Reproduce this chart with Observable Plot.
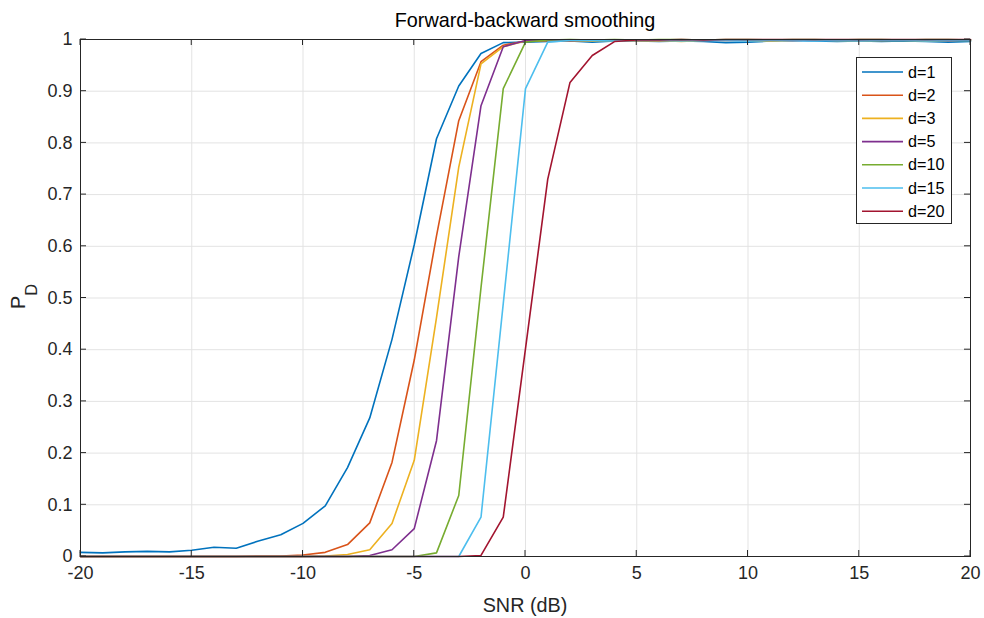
<!DOCTYPE html>
<html>
<head>
<meta charset="utf-8">
<script src="https://cdn.jsdelivr.net/npm/d3@7"></script>
<script src="https://cdn.jsdelivr.net/npm/@observablehq/plot@0.6"></script>
<style>
  html, body { margin: 0; padding: 0; background: #fff; }
  #chart { position: relative; width: 984px; height: 618px; }
</style>
</head>
<body>
<div id="chart"></div>
<script>
// ---- data ----
const snr = [-20,-19,-18,-17,-16,-15,-14,-13,-12,-11,-10,-9,-8,-7,-6,-5,-4,-3,-2,-1,0,
             1,2,3,4,5,6,7,8,9,10,11,12,13,14,15,16,17,18,19,20];

const seriesLabels = ["d=1","d=2","d=3","d=5","d=10","d=15","d=20"];
const seriesColors = ["#0072BD","#D95319","#EDB120","#7E2F8E","#77AC30","#4DBEEE","#A2142F"];

const pd1  = [0.008,0.007,0.009,0.010,0.009,0.012,0.018,0.016,0.030,0.042,0.064,0.098,0.172,0.268,0.420,0.603,0.808,0.910,0.973,0.994,0.995,
              0.996,0.997,0.995,0.997,0.997,0.996,0.997,0.996,0.994,0.995,0.997,0.998,0.997,0.996,0.997,0.996,0.997,0.996,0.995,0.996];
const pd2  = [0.000,0.000,0.000,0.000,0.000,0.000,0.000,0.000,0.001,0.001,0.003,0.008,0.023,0.065,0.182,0.380,0.620,0.843,0.957,0.989,0.997,
              0.998,0.997,0.998,0.999,0.998,0.997,0.998,0.999,0.998,0.999,0.998,0.999,0.999,0.998,0.999,0.998,0.999,0.999,0.998,0.999];
const pd3  = [0.000,0.000,0.000,0.000,0.000,0.000,0.000,0.000,0.000,0.000,0.000,0.001,0.004,0.013,0.064,0.186,0.462,0.753,0.953,0.986,0.997,
              0.998,0.998,0.997,0.998,0.997,0.998,0.996,0.998,0.999,0.998,0.997,0.998,0.999,0.998,0.997,0.998,0.998,0.997,0.998,0.998];
const pd5  = [0.000,0.000,0.000,0.000,0.000,0.000,0.000,0.000,0.000,0.000,0.000,0.000,0.000,0.002,0.013,0.054,0.224,0.580,0.872,0.986,0.998,
              0.999,0.998,0.999,0.999,0.998,0.999,0.999,0.998,0.999,0.999,0.999,0.998,0.999,0.999,0.998,0.999,0.999,0.999,0.998,0.999];
const pd10 = [0.000,0.000,0.000,0.000,0.000,0.000,0.000,0.000,0.000,0.000,0.000,0.000,0.000,0.000,0.000,0.000,0.007,0.118,0.520,0.905,0.995,
              0.999,1.000,0.999,1.000,0.999,1.000,1.000,0.999,1.000,1.000,0.999,1.000,1.000,0.999,1.000,1.000,0.999,1.000,1.000,0.999];
const pd15 = [0.000,0.000,0.000,0.000,0.000,0.000,0.000,0.000,0.000,0.000,0.000,0.000,0.000,0.000,0.000,0.000,0.000,0.000,0.076,0.489,0.905,
              0.995,0.998,0.998,0.997,0.998,0.998,0.997,0.998,0.998,0.997,0.998,0.998,0.997,0.998,0.997,0.998,0.998,0.997,0.998,0.998];
const pd20 = [0.000,0.000,0.000,0.000,0.000,0.000,0.000,0.000,0.000,0.000,0.000,0.000,0.000,0.000,0.000,0.000,0.000,0.000,0.002,0.076,0.402,
              0.730,0.917,0.969,0.996,0.999,0.999,1.000,0.999,1.000,1.000,1.000,1.000,1.000,1.000,1.000,1.000,1.000,1.000,1.000,1.000];

const xTicks = [-20,-15,-10,-5,0,5,10,15,20];
const yTicks = [0,0.1,0.2,0.3,0.4,0.5,0.6,0.7,0.8,0.9,1];
const yTickLabels = ["0","0.1","0.2","0.3","0.4","0.5","0.6","0.7","0.8","0.9","1"];

const titleText = "Forward-backward smoothing";
const xLabelText = "SNR (dB)";

// ---- build table ----
const allSeries = [pd1, pd2, pd3, pd5, pd10, pd15, pd20];
const rows = [];
allSeries.forEach((arr, i) => {
  arr.forEach((p, j) => rows.push({series: seriesLabels[i], snr: snr[j], p}));
});

const W = 984, H = 618;
const mL = 80, mR = 14, mT = 39, mB = 62;
const fontFam = '"Liberation Sans", Arial, Helvetica, sans-serif';
const tickFont = 18;
const labelFont = 19.8;
const legendFont = 16.2;
const gridColor = "#e3e3e3";
const axisColor = "#262626";

const chart = Plot.plot({
  width: W,
  height: H,
  marginLeft: mL,
  marginRight: mR,
  marginTop: mT,
  marginBottom: mB,
  style: {fontFamily: fontFam, color: axisColor, background: "#fff"},
  x: {domain: [-20, 20], ticks: xTicks},
  y: {domain: [0, 1], ticks: yTicks},
  color: {domain: seriesLabels, range: seriesColors},
  marks: [
    Plot.gridX(xTicks, {stroke: gridColor, strokeOpacity: 1, strokeWidth: 1}),
    Plot.gridY(yTicks, {stroke: gridColor, strokeOpacity: 1, strokeWidth: 1}),
    Plot.line(rows, {x: "snr", y: "p", z: "series", stroke: "series", strokeWidth: 1.6, strokeLinejoin: "round"}),
    Plot.axisX(xTicks, {tickSize: 0, tickPadding: 10, fill: axisColor, label: null,
      tickFormat: d => d < 0 ? "-" + Math.abs(d) : String(d)}),
    Plot.axisY(yTicks, {tickSize: 0, tickPadding: 8, fill: axisColor, label: null,
      tickFormat: (d, i) => yTickLabels[i]}),
    Plot.frame({stroke: axisColor, strokeWidth: 1})
  ]
});

document.getElementById("chart").appendChild(chart);

const svg = d3.select(chart);
// enlarge axis tick labels (inline style wins over Plot's stylesheet)
svg.selectAll("g[aria-label*='tick label']").style("font-size", tickFont + "px").style("font-family", fontFam);
svg.selectAll("g[aria-label*='tick label'] text").style("font-size", tickFont + "px");

// ---- decorations using Plot scales ----
const sx = chart.scale("x"), sy = chart.scale("y");
const x0 = sx.apply(-20), x1 = sx.apply(20), y0 = sy.apply(0), y1 = sy.apply(1);
const tk = 6;
const g = svg.append("g").attr("stroke", axisColor).attr("stroke-width", 1);
xTicks.forEach(v => {
  const px = sx.apply(v);
  g.append("line").attr("x1", px).attr("x2", px).attr("y1", y0).attr("y2", y0 - tk);
  g.append("line").attr("x1", px).attr("x2", px).attr("y1", y1).attr("y2", y1 + tk);
});
yTicks.forEach(v => {
  const py = sy.apply(v);
  g.append("line").attr("x1", x0).attr("x2", x0 + tk).attr("y1", py).attr("y2", py);
  g.append("line").attr("x1", x1).attr("x2", x1 - tk).attr("y1", py).attr("y2", py);
});

function styled(sel, size, anchor) {
  return sel.style("font-size", size + "px").style("font-family", fontFam).style("text-anchor", anchor);
}

// title
styled(svg.append("text"), labelFont, "middle")
  .attr("x", (x0 + x1) / 2).attr("y", 27)
  .attr("fill", "#000")
  .text(titleText);

// x label
styled(svg.append("text"), labelFont, "middle")
  .attr("x", (x0 + x1) / 2).attr("y", 612)
  .attr("fill", axisColor)
  .text(xLabelText);

// y label P_D
const yl = styled(svg.append("text"), labelFont, "middle")
  .attr("transform", `translate(25,${(y0 + y1) / 2 - 1}) rotate(-90)`)
  .attr("fill", axisColor);
yl.append("tspan").text("P");
yl.append("tspan").attr("dy", "12").style("font-size", "16.5px").text("D");

// legend
const lx = 856, ly = 57, lw = 95, lh = 166, rowH = 23.2;
const lg = svg.append("g");
lg.append("rect").attr("x", lx + 0.5).attr("y", ly + 0.5).attr("width", lw).attr("height", lh)
  .attr("fill", "#fff").attr("stroke", axisColor).attr("stroke-width", 1);
seriesLabels.forEach((lab, i) => {
  const cy = ly + 15 + i * rowH;
  lg.append("line").attr("x1", lx + 6).attr("x2", lx + 47).attr("y1", cy).attr("y2", cy)
    .attr("stroke", seriesColors[i]).attr("stroke-width", 1.6);
  styled(lg.append("text"), legendFont, "start")
    .attr("x", lx + 52).attr("y", cy).attr("dy", "0.35em")
    .attr("fill", "#000").text(lab);
});
</script>
</body>
</html>
